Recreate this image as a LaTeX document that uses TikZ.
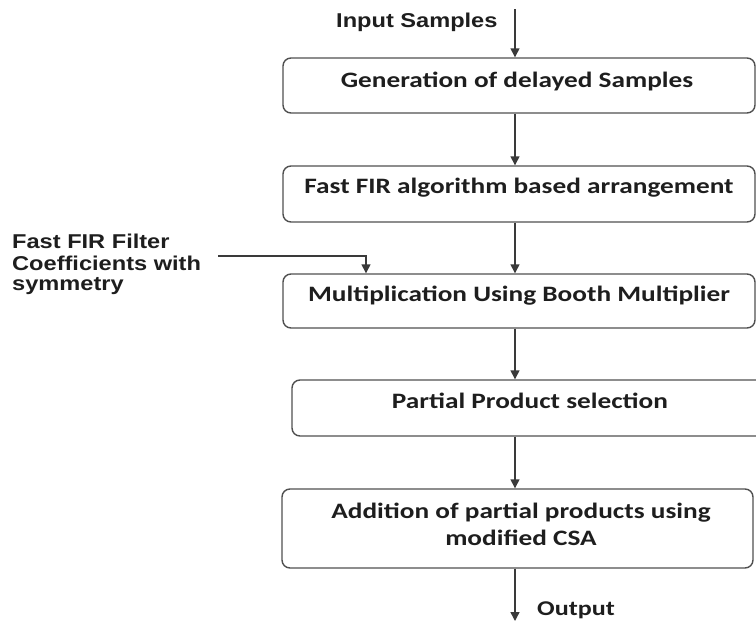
\documentclass[tikz,border=0pt]{standalone}
\usepackage{fontspec}
\newfontfamily\boxfont[FakeStretch=1.24]{Carlito}
\newfontfamily\arfont[FakeStretch=1.18]{Liberation Sans}
\usetikzlibrary{arrows.meta}
\definecolor{boxgray}{HTML}{505050}
\definecolor{linegray}{HTML}{3A3A3A}
\definecolor{textc}{HTML}{1E1E1E}
\begin{document}
\begin{tikzpicture}[x=1pt,y=-1pt,
  box/.style={draw=boxgray, line width=1.4pt, rounded corners=8pt, inner sep=0pt},
  flow/.style={draw=linegray, line width=1.4pt, -{Triangle[length=9pt,width=9pt]}},
  btext/.style={font=\boxfont\bfseries\fontsize{22}{27}\selectfont, text=textc, anchor=base, inner sep=0pt},
  otext/.style={font=\boxfont\bfseries\fontsize{21}{25}\selectfont, text=textc, anchor=base west, inner sep=0pt},
  ltext/.style={font=\arfont\bfseries\fontsize{20}{22}\selectfont, text=textc, anchor=base west, inner sep=0pt},
]
\useasboundingbox (0,0) rectangle (756,622);
\clip (0,0) rectangle (756,622);
\fill[white] (0,0) rectangle (756,622);

% boxes
\node[box, minimum width=472pt, minimum height=55pt] (b1) at (519,85.5) {};
\node[box, minimum width=472pt, minimum height=56pt] (b2) at (519,194) {};
\node[box, minimum width=472pt, minimum height=54pt] (b3) at (519,301) {};
\node[box, minimum width=472pt, minimum height=56pt] (b4) at (528,408) {};
\node[box, minimum width=471pt, minimum height=79pt] (b5) at (517.5,528.5) {};

% box texts
\node[btext] (t1) at (517,87) {Generation of delayed Samples};
\node[btext] (t2) at (519,193) {Fast FIR algorithm based arrangement};
\node[btext] (t3) at (519,301) {Multiplication Using Booth Multiplier};
\node[btext] (t4) at (530,408) {Partial Product selection};
\node[btext] (t5a) at (521,518) {Addition of partial products using};
\node[btext] (t5b) at (521,545) {modified CSA};

% outer labels
\node[ltext] (in) at (336,27) {Input Samples};
\node[otext] (out) at (537,615) {Output};
\node[ltext] (l1) at (12,248) {Fast FIR Filter};
\node[ltext] (l2) at (12,270) {Coefficients with};
\node[ltext] (l3) at (12,290) {symmetry};

% connectors
\coordinate (col) at (515,0);
\coordinate (top) at (515,9);
\coordinate (bot) at (515,621);
\coordinate (c0) at (218,256);
\coordinate (c1) at (366,0);
\draw[flow] (top) -- (top |- b1.north);
\draw[flow] (b1.south -| col) -- (b2.north -| col);
\draw[flow] (b2.south -| col) -- (b3.north -| col);
\draw[flow] (b3.south -| col) -- (b4.north -| col);
\draw[flow] (b4.south -| col) -- (b5.north -| col);
\draw[flow] (b5.south -| col) -- (bot);
\draw[flow] (c0) -| (c1 |- b3.north);
\end{tikzpicture}
\end{document}
